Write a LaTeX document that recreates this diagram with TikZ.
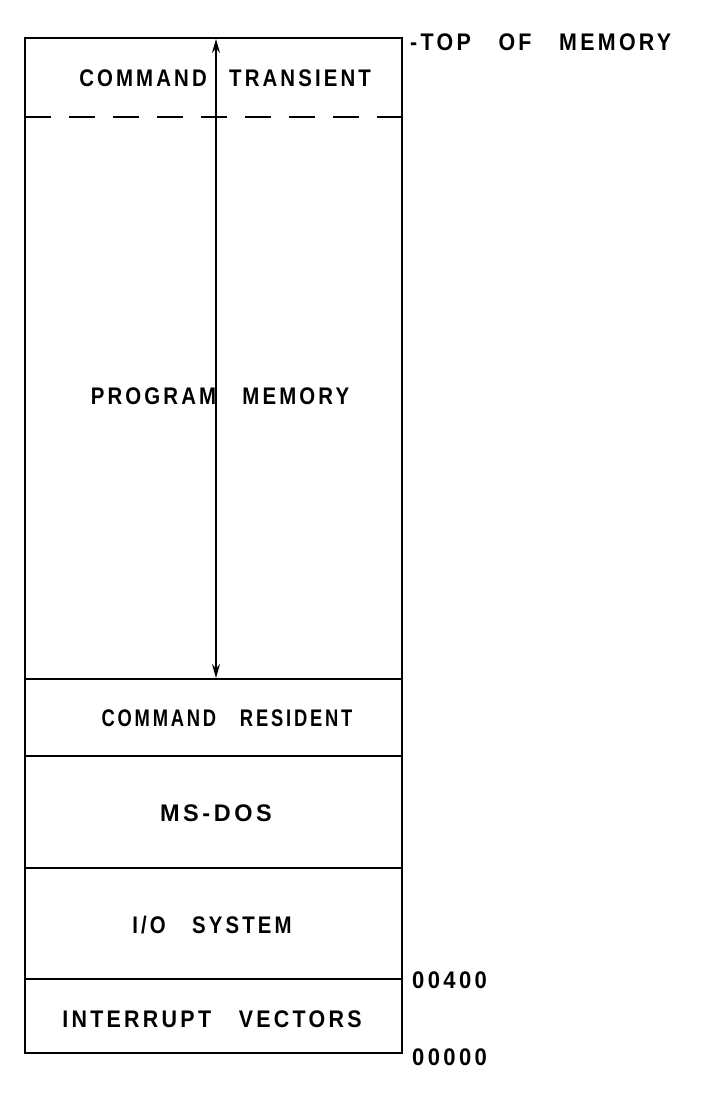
\documentclass[tikz,border=0pt]{standalone}
\usepackage{fontspec}
\setmainfont{Liberation Sans}[FakeStretch=0.85,LetterSpace=13,WordSpace=3]
\usetikzlibrary{arrows.meta}
\begin{document}
\begin{tikzpicture}[x=1pt,y=-1pt,
  frame/.style={line width=2.8pt,line cap=rect},
  lbl/.style={font=\fontsize{24}{28}\selectfont\bfseries,inner sep=0pt},
  sx/.style={xscale=#1,transform shape},
  dashline/.style={line width=2.8pt,dash pattern=on 26pt off 18pt}]
\useasboundingbox (0,0) rectangle (704,1105);
% outer box
\draw[frame] (25,38) rectangle (402,1053);
% dividers
\draw[dashline] (25,117) -- (402,117);
\draw[frame] (25,679) -- (402,679);
\draw[frame] (25,756) -- (402,756);
\draw[frame] (25,868) -- (402,868);
\draw[frame] (25,979) -- (402,979);
% arrow
\coordinate (atop) at (216,39);
\coordinate (abot) at (216,678);
\draw[line width=1.6pt,{Stealth[length=14pt,width=8pt]}-{Stealth[length=14pt,width=8pt]}] (atop) -- (abot);
% labels
\node[lbl,anchor=east] (ct1) at (207,78) {COMMAND};
\node[lbl,anchor=west] (ct2) at (229,78) {TRANSIENT};
\node[lbl] (pm) at (220,396) {PROGRAM MEMORY};
\node[lbl,sx=0.9] (cr) at (227,718) {COMMAND RESIDENT};
\node[lbl,sx=1.15] (ms) at (216,813) {MS-DOS};
\node[lbl] (io) at (212,925) {I/O SYSTEM};
\node[lbl,sx=1.05] (iv) at (212,1019) {INTERRUPT VECTORS};
\node[lbl,sx=1.05,anchor=west] (tom) at (410,42) {-TOP OF MEMORY};
\node[lbl,sx=1.08,anchor=west] (a400) at (412,980) {00400};
\node[lbl,sx=1.08,anchor=west] (a000) at (412,1057) {00000};
\end{tikzpicture}
\end{document}
